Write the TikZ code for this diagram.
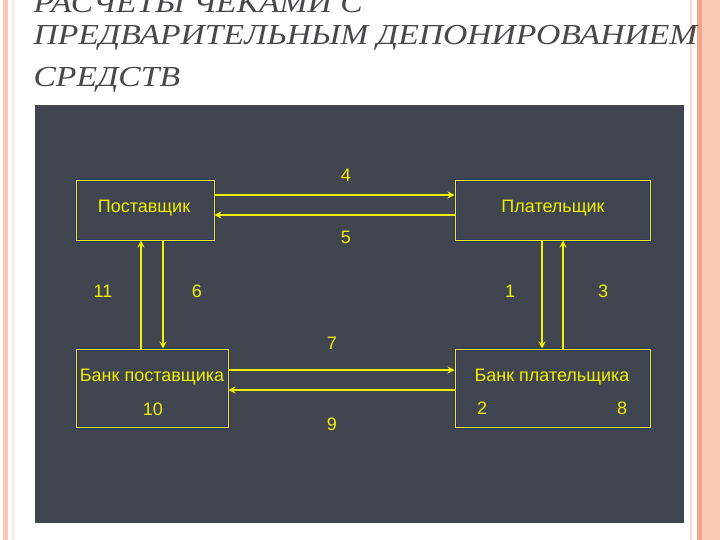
\documentclass[tikz,border=0pt]{standalone}
\usepackage{fontspec}
\setmainfont{Liberation Sans}
\newfontfamily\headfont[FakeStretch=1.16]{Liberation Serif}
\usetikzlibrary{arrows.meta}
\definecolor{slide}{HTML}{41454F}
\definecolor{ink}{HTML}{F0F000}
\definecolor{halo}{HTML}{2E3470}
\definecolor{peach}{HTML}{FAC8B4}
\definecolor{rust}{HTML}{F0A88C}
\definecolor{heading}{HTML}{48484C}
\tikzset{%
  account/.style = {shape=rectangle, draw=ink, line width=1pt,%
                    preaction={draw=halo, line width=3pt},%
                    inner sep=0pt},%
  firm/.style    = {font=\fontsize{18}{21}\selectfont, text=ink},%
  digit/.style   = {firm},%
  heading/.style = {anchor=base west, text=heading,%
                    font=\headfont\itshape\fontsize{29}{32}\selectfont},%
  flow/.style    = {draw=ink, line width=1.8pt, -{Stealth[length=7pt,width=7pt]}}%
}
\begin{document}
\begin{tikzpicture}[x=1pt,y=-1pt]
		\useasboundingbox (0,0) rectangle (720,540);
		\fill[white] (0,0) rectangle (720,540);
		\fill[peach] (3,0) rectangle (8,540);
		\fill[peach!40] (12,0) rectangle (13.5,540);
		\fill[peach!70] (690,0) rectangle (692,540);
		\fill[rust] (697,0) rectangle (702,540);
		\fill[peach] (702,0) rectangle (720,540);
		\node[heading] (t1) at (30,13) {РАСЧЕТЫ ЧЕКАМИ С};
		\node[heading] (t2) at (30,45) {ПРЕДВАРИТЕЛЬНЫМ ДЕПОНИРОВАНИЕМ};
		\node[heading] (t3) at (30,87) {СРЕДСТВ};
		\fill[slide] (35,105) rectangle (684,523);
		\node[account, minimum width=138pt, minimum height=59pt] (post) at (145,210.5) {};
		\node[account, minimum width=195pt, minimum height=59pt] (pay) at (552.5,210.5) {};
		\node[account, minimum width=152pt, minimum height=78pt] (bpost) at (152,388) {};
		\node[account, minimum width=195pt, minimum height=78pt] (bpay) at (552.5,388) {};
		\node[firm] (npost) at (144,208) {Поставщик};
		\node[firm] (npay) at (553,208) {Плательщик};
		\node[firm] (nbpost) at (152,377) {Банк поставщика};
		\node[firm] (nbpay) at (552,377) {Банк плательщика};
		\draw[flow] ([yshift=15.5pt]post.east) -- ([yshift=15.5pt]post.east -| pay.west);
		\draw[flow] ([yshift=-4.5pt]pay.west) -- ([yshift=-4.5pt]pay.west -| post.east);
		\draw[flow] ([xshift=-4pt]post.south |- bpost.north) -- ([xshift=-4pt]post.south);
		\draw[flow] ([xshift=18pt]post.south) -- ([xshift=18pt]post.south |- bpost.north);
		\draw[flow] ([xshift=-10.5pt]pay.south) -- ([xshift=-10.5pt]pay.south |- bpay.north);
		\draw[flow] ([xshift=10.5pt]pay.south |- bpay.north) -- ([xshift=10.5pt]pay.south);
		\draw[flow] ([yshift=18pt]bpost.east) -- ([yshift=18pt]bpost.east -| bpay.west);
		\draw[flow] ([yshift=-2pt]bpay.west) -- ([yshift=-2pt]bpay.west -| bpost.east);
		\node[digit] (n4) at (346,175) {4};
		\node[digit] (n5) at (346,237) {5};
		\node[digit] (n11) at (103,291) {11};
		\node[digit] (n6) at (197,291) {6};
		\node[digit] (n1) at (510,291) {1};
		\node[digit] (n3) at (603,291) {3};
		\node[digit] (n7) at (332,343) {7};
		\node[digit] (n9) at (332,424) {9};
		\node[digit] (n10) at (153,409) {10};
		\node[digit] (n2) at (482,408) {2};
		\node[digit] (n8) at (622,408) {8};
	\end{tikzpicture}
\end{document}
